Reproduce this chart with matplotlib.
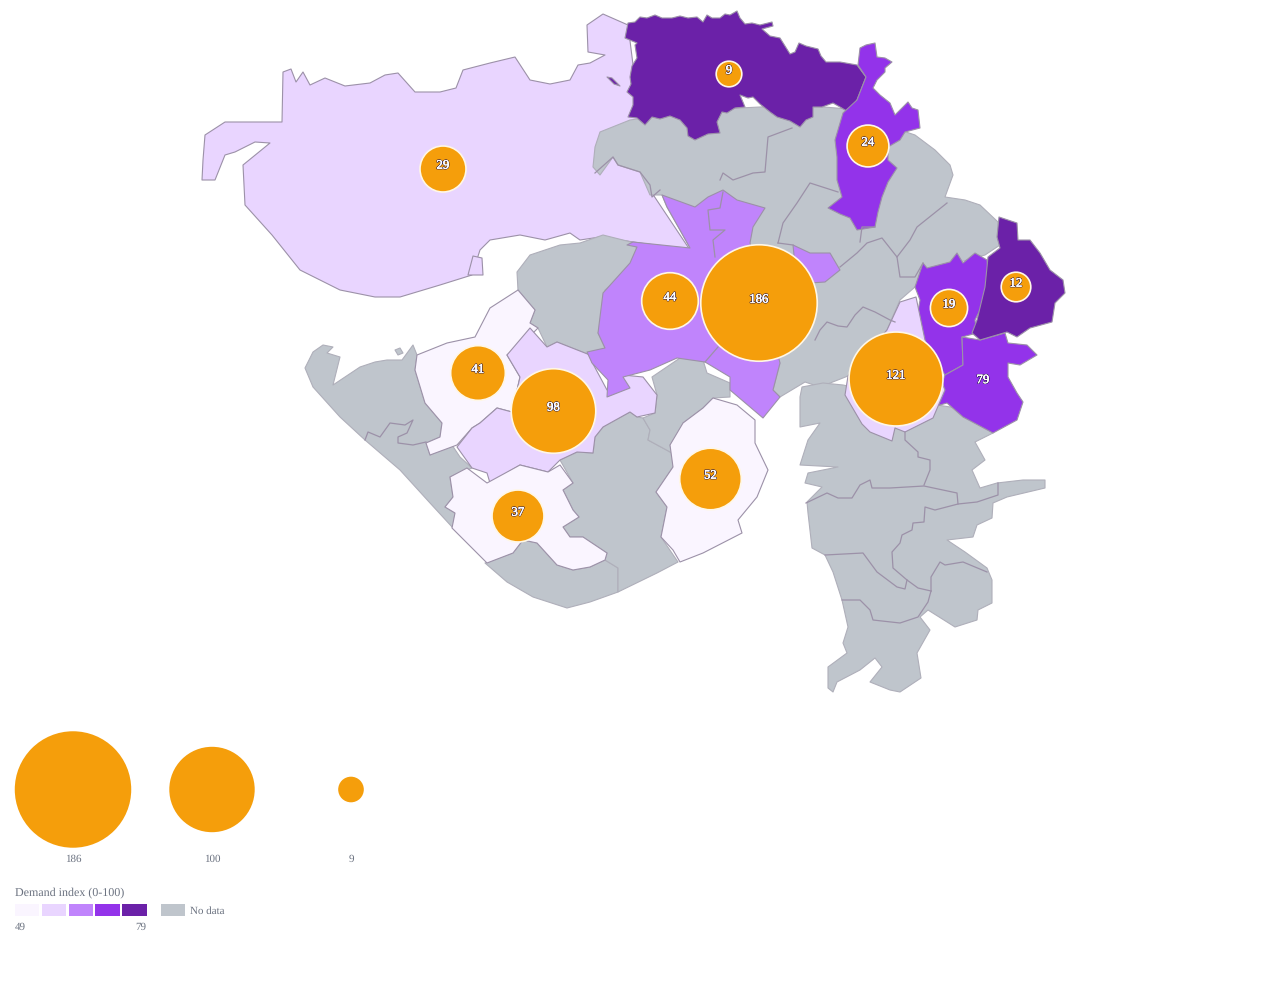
"""Demand index by district: choropleth with proportional bubbles and legend."""

import matplotlib
matplotlib.use("Agg")
import matplotlib.pyplot as plt
import matplotlib.patheffects as pe
from matplotlib.patches import Circle, Polygon, Rectangle

plt.rcParams["font.family"] = ["Liberation Serif", "DejaVu Serif"]
plt.rcParams["text.hinting"] = "no_hinting"
plt.rcParams["text.hinting_factor"] = 1

# ── Palette ──────────────────────────────────────────────────────────────────
SHADES = ["#FAF5FF", "#E9D5FF", "#C084FC", "#9333EA", "#6B21A8"]
NO_DATA = "#BFC5CC"
BORDER = "#9C91A8"
ORANGE = "#F59E0B"
MUTED = "#6B7280"

# ── District outlines (in image pixels) ──────────────────────────────────────
KUTCH = [(282,122),(283,72),(291,69),(296,82),(303,72),(310,85),(325,78),(345,86),(370,83),(385,75),(398,73),(415,92),(440,92),(456,88),(463,70),(490,63),(515,57),(530,80),(550,84),(570,80),(578,65),(590,63),(605,55),(588,52),(587,25),(603,14),(628,25),(640,120),(650,190),(690,250),(640,243),(600,237),(580,240),(570,233),(545,240),(520,235),(490,240),(480,250),(472,275),(440,285),(400,297),(375,297),(340,290),(300,270),(272,235),(245,205),(243,165),(270,143),(255,142),(235,152),(225,155),(215,180),(202,180),(203,160),(205,135),(225,122)]
KUTCH_ISLE = [(468,275),(473,256),(482,258),(483,275)]
GRAY_NORTH = [(595,147),(600,132),(630,120),(700,110),(800,105),(860,110),(900,130),(915,135),(935,150),(950,165),(953,175),(945,197),(965,200),(980,205),(998,222),(1000,245),(985,255),(960,262),(930,268),(915,287),(900,300),(887,330),(848,376),(820,387),(805,382),(780,397),(773,390),(780,363),(705,300),(700,250),(690,248),(680,230),(667,207),(662,195),(650,195),(640,172),(618,165),(613,157),(600,175),(593,167)]
GRAY_MORBI = [(517,272),(530,255),(560,245),(580,243),(603,235),(635,243),(640,262),(605,290),(605,315),(598,333),(605,348),(590,355),(557,342),(547,347),(538,328),(530,323),(535,310),(518,290)]
GRAY_WEST = [(305,368),(313,352),(323,345),(333,347),(327,353),(340,357),(333,385),(348,375),(360,367),(375,362),(387,360),(402,360),(413,345),(417,355),(415,370),(425,403),(442,423),(440,437),(426,443),(430,455),(452,445),(460,457),(472,468),(450,477),(453,497),(445,507),(455,513),(453,528),(430,503),(400,470),(365,440),(340,417),(313,387)]
GRAY_ISLET = [(395,350),(400,348),(403,353),(398,355)]
GRAY_COAST = [(485,563),(513,553),(523,540),(537,543),(557,565),(573,570),(590,567),(605,560),(618,568),(618,592),(590,602),(567,608),(533,597),(507,582)]
GRAY_AMRELI = [(560,460),(577,452),(593,453),(595,437),(603,427),(630,412),(637,417),(643,418),(650,430),(648,440),(672,453),(673,467),(656,492),(667,507),(661,537),(678,562),(657,573),(618,592),(618,568),(605,560),(607,553),(583,537),(570,537),(563,527),(579,517),(573,510),(563,490),(573,483)]
GRAY_BOTAD = [(652,377),(680,358),(703,360),(707,373),(730,383),(730,397),(713,398),(703,408),(683,423),(687,435),(670,445),(672,453),(648,440),(650,430),(643,418),(655,413),(657,395)]
GRAY_SOUTH = [(802,387),(823,383),(843,385),(937,405),(957,408),(993,433),(975,442),(985,460),(972,470),(980,488),(997,483),(1023,480),(1045,480),(1045,488),(1007,497),(993,503),(992,518),(977,525),(973,537),(947,540),(965,552),(987,568),(992,580),(992,603),(978,610),(977,620),(955,627),(928,610),(920,617),(930,630),(917,653),(921,678),(900,692),(890,690),(870,682),(882,667),(875,658),(860,670),(837,682),(833,692),(828,688),(828,667),(847,653),(843,643),(848,627),(842,600),(833,572),(825,555),(812,548),(808,513),(807,502),(822,487),(805,483),(808,473),(838,467),(800,465),(808,440),(820,423),(800,427),(800,397)]
SURENDRA = [(662,195),(695,207),(708,197),(723,190),(737,200),(765,208),(753,227),(750,243),(780,363),(773,390),(780,397),(763,418),(730,390),(730,377),(705,362),(677,358),(650,370),(623,377),(630,388),(607,397),(608,380),(592,363),(587,352),(605,348),(598,333),(603,293),(630,263),(637,247),(627,245),(633,242),(690,248),(680,230),(667,207)]
SURENDRA_EAST = [(793,245),(810,253),(830,253),(840,270),(825,282),(810,283),(795,265)]
JAMNAGAR = [(518,290),(535,310),(530,323),(538,328),(523,343),(507,355),(520,377),(512,412),(497,408),(480,423),(472,428),(457,445),(430,455),(426,443),(440,437),(442,423),(425,403),(415,370),(417,355),(447,343),(475,337),(490,308)]
RAJKOT = [(530,328),(547,347),(557,342),(590,355),(592,362),(607,390),(623,375),(643,377),(657,395),(655,413),(637,417),(630,412),(603,427),(595,437),(593,453),(577,452),(560,460),(548,472),(520,465),(490,483),(487,473),(472,468),(457,447),(472,428),(480,423),(497,408),(512,412),(520,377),(507,355)]
JUNAGADH = [(450,477),(467,468),(487,483),(520,465),(548,472),(560,465),(573,483),(563,490),(573,510),(579,517),(563,527),(570,537),(583,537),(607,553),(605,560),(590,567),(573,570),(557,565),(537,543),(523,540),(513,553),(487,563),(452,528),(455,513),(445,507),(453,497)]
SURAT = [(713,398),(737,405),(755,420),(755,443),(768,470),(757,497),(738,520),(742,533),(703,553),(680,562),(673,550),(661,537),(667,507),(656,492),(673,467),(670,445),(683,423),(703,408)]
BANASKANTHA = [(628,23),(635,22),(640,17),(647,18),(655,15),(662,18),(672,18),(680,16),(688,18),(697,17),(703,22),(707,15),(712,18),(720,18),(725,14),(730,15),(737,11),(740,18),(745,24),(752,23),(760,25),(772,22),(773,26),(762,29),(770,36),(780,38),(785,46),(790,54),(795,52),(799,43),(806,46),(818,49),(821,56),(826,62),(840,62),(857,65),(866,77),(857,100),(850,113),(840,107),(833,103),(822,107),(813,107),(813,117),(806,120),(800,127),(790,121),(777,117),(770,112),(760,104),(753,97),(748,98),(740,95),(745,107),(735,108),(727,113),(722,112),(717,122),(720,133),(708,134),(695,140),(688,136),(687,128),(680,120),(670,116),(660,119),(652,117),(645,125),(637,118),(628,117),(633,105),(633,97),(627,92),(631,84),(630,77),(632,66),(637,58),(635,45),(637,43),(625,38)]
BANAS_LAKE = [(607,77),(612,78),(620,86),(614,84)]
SABAR = [(860,48),(866,45),(875,43),(877,57),(885,58),(892,62),(885,68),(885,72),(877,80),(873,88),(880,95),(890,103),(895,115),(908,102),(912,108),(918,110),(920,128),(905,132),(900,140),(888,147),(888,160),(897,168),(888,182),(882,197),(878,212),(875,227),(857,230),(850,218),(840,214),(828,208),(842,197),(837,180),(837,157),(835,140),(843,113),(857,100),(866,77),(858,65)]
DAHOD = [(923,263),(927,268),(950,262),(957,253),(963,263),(975,253),(987,260),(988,270),(985,300),(975,320),(977,333),(962,337),(963,365),(945,375),(915,330),(920,300),(915,287)]
PANCH = [(962,337),(980,340),(1005,333),(1008,343),(1027,345),(1037,355),(1020,365),(1008,363),(1008,377),(1017,393),(1023,402),(1017,420),(993,433),(963,417),(947,403),(933,407),(945,375),(963,365)]
VALSAD = [(999,217),(1017,223),(1018,240),(1030,240),(1040,253),(1050,270),(1063,280),(1065,293),(1055,303),(1052,322),(1030,328),(1017,337),(1007,332),(980,340),(972,333),(977,320),(985,287),(988,257),(1000,248),(997,237)]
BHARUCH = [(900,302),(916,297),(925,340),(945,390),(933,418),(905,432),(895,428),(892,441),(870,432),(862,424),(845,395),(848,376),(887,330)]

GRAY_AREAS = [GRAY_NORTH, GRAY_MORBI, GRAY_WEST, GRAY_ISLET, GRAY_COAST, GRAY_AMRELI, GRAY_BOTAD, GRAY_SOUTH]
TINTED_AREAS = [(JAMNAGAR, 0), (RAJKOT, 1), (JUNAGADH, 0), (SURAT, 0), (SURENDRA, 2), (SURENDRA_EAST, 2),
                (BANASKANTHA, 4), (BANAS_LAKE, 4), (SABAR, 3), (DAHOD, 3), (PANCH, 3), (VALSAD, 4), (BHARUCH, 1)]

# Borders between no-data districts
INNER_BORDERS = [
    [(595,173),(613,157),(618,165),(640,172),(650,185),(652,197),(660,190)],
    [(720,180),(723,173),(733,180),(753,173),(765,172),(768,137),(792,128)],
    [(778,243),(783,223),(797,203),(810,183),(838,192)],
    [(778,243),(793,245)],
    [(840,267),(857,253),(867,243),(882,238),(897,257),(900,277),(915,277),(923,263)],
    [(897,257),(910,240),(917,227),(947,203)],
    [(860,242),(862,227),(875,227)],
    [(815,340),(820,330),(827,322),(838,326),(847,327),(855,315),(863,307),(875,312),(890,320),(895,322)],
    [(905,432),(905,440),(918,452),(918,457),(930,460),(930,470),(924,485)],
    [(806,503),(827,493),(838,498),(852,498),(860,485),(870,480),(872,488),(890,488),(924,486),(957,493),(958,504)],
    [(998,483),(998,495),(977,502),(958,504),(935,510),(925,507),(924,522),(913,523),(912,530),(902,535),(900,543),(892,552),(893,568),(907,580),(918,588),(931,591)],
    [(825,555),(863,553),(877,572),(897,587),(905,589),(907,580)],
    [(931,591),(931,577),(940,562),(945,565),(963,562),(987,572)],
    [(842,600),(860,600),(870,610),(873,620),(900,623),(918,617),(928,602),(931,591)],
    [(365,440),(368,432),(380,437),(390,423),(405,425),(413,420),(407,433),(398,437),(398,443),(413,445),(426,442)],
    [(705,362),(718,347)],
    [(723,192),(720,208),(708,210),(710,230),(725,230),(713,240),(715,257)],
]

# ── Bubbles ──────────────────────────────────────────────────────────────────
BUBBLE_VALUES = [186, 121, 98, 52, 44, 41, 37, 29, 24, 19, 12, 9]
BUBBLE_X = [759, 896, 553.5, 710.5, 670, 478, 518, 443, 868, 949, 1016, 729]
BUBBLE_Y = [303, 379, 411, 479, 301, 373, 516, 169, 146, 308, 287, 74]

# value printed without a visible bubble
LONE_VALUE = 79
LONE_XY = (983, 380)

SIZE_LEGEND_VALUES = [186, 100, 9]
SIZE_LEGEND_X = [73, 212, 351]
SCALE_TICKS = ["49", "79"]


def radius(value):
    return 4.27 * value ** 0.5


def add_area(ax, points, color, edge=BORDER, lw=0.8):
    ax.add_patch(Polygon(points, closed=True, facecolor=color, edgecolor=edge, linewidth=lw, joinstyle="round"))


def bubble_label(ax, x, y, text):
    # white fill drawn twice so the digits stay readable on the dark halo
    ax.text(x, y, text, ha="center", va="center", color="white", fontsize=9.2, zorder=6,
            path_effects=[pe.withStroke(linewidth=1.1, foreground="#2A1A4A"),
                          pe.Stroke(linewidth=0.25, foreground="white"), pe.Normal()])


fig = plt.figure(figsize=(12.67, 10), dpi=100)
ax = fig.add_axes([0, 0, 1, 1])
ax.set_xlim(0, 1267)
ax.set_ylim(1000, 0)
ax.axis("off")

# map
add_area(ax, KUTCH, SHADES[1])
add_area(ax, KUTCH_ISLE, SHADES[1])
for area in GRAY_AREAS:
    add_area(ax, area, NO_DATA, edge="#AFAFBA")
for line in INNER_BORDERS:
    xs, ys = zip(*line)
    ax.plot(xs, ys, color=BORDER, lw=0.9, solid_joinstyle="round")
for area, shade in TINTED_AREAS:
    add_area(ax, area, SHADES[shade])

# bubbles
for val, x, y in zip(BUBBLE_VALUES, BUBBLE_X, BUBBLE_Y):
    ax.add_patch(Circle((x, y), radius(val), facecolor=ORANGE, edgecolor="#FFF7E6", linewidth=1.2, zorder=5))
    bubble_label(ax, x, y - 3.5, str(val))
bubble_label(ax, LONE_XY[0], LONE_XY[1], str(LONE_VALUE))

# size legend
for val, x in zip(SIZE_LEGEND_VALUES, SIZE_LEGEND_X):
    ax.add_patch(Circle((x, 789.5), radius(val), facecolor=ORANGE, edgecolor="none"))
    ax.text(x, 859, str(val), ha="center", va="center", color=MUTED, fontsize=8)

# colour legend
ax.text(15, 893, "Demand index (0-100)", ha="left", va="center", color=MUTED, fontsize=8.5)
for i, color in enumerate(SHADES):
    ax.add_patch(Rectangle((15 + i * 26.8, 904), 24.4, 12, facecolor=color, edgecolor="none"))
ax.add_patch(Rectangle((161, 904), 24.4, 12, facecolor=NO_DATA, edgecolor="none"))
ax.text(190, 911.5, "No data", ha="left", va="center", color=MUTED, fontsize=8.2)
ax.text(15, 927, SCALE_TICKS[0], ha="left", va="center", color=MUTED, fontsize=8)
ax.text(146, 927, SCALE_TICKS[1], ha="right", va="center", color=MUTED, fontsize=8)

fig.savefig("out.png", dpi=100, facecolor="white")
